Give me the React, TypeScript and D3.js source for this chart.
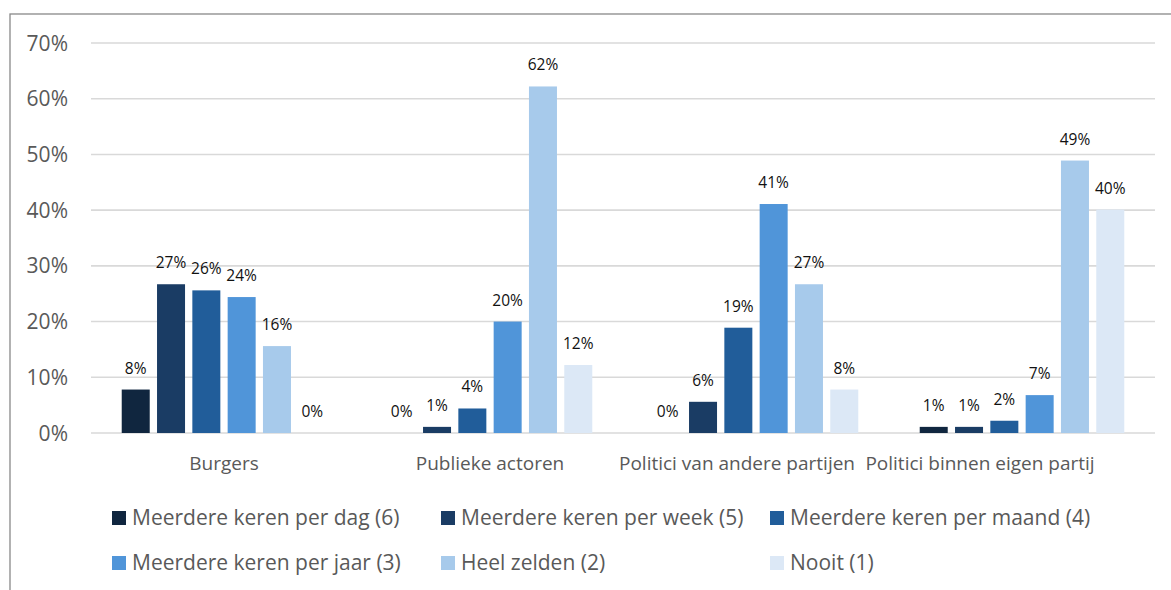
import React from "react";
import * as d3 from "d3";

const categories = ["Burgers", "Publieke actoren", "Politici van andere partijen", "Politici binnen eigen partij"];
const seriesNames = [
  "Meerdere keren per dag (6)",
  "Meerdere keren per week (5)",
  "Meerdere keren per maand (4)",
  "Meerdere keren per jaar (3)",
  "Heel zelden (2)",
  "Nooit (1)",
];
const perDag = [7.8, 0, 0, 1.1];
const perWeek = [26.7, 1.1, 5.6, 1.1];
const perMaand = [25.6, 4.4, 18.9, 2.2];
const perJaar = [24.4, 20.0, 41.1, 6.8];
const heelZelden = [15.6, 62.2, 26.7, 48.9];
const nooit = [0, 12.2, 7.8, 40.1];
const seriesValues = [perDag, perWeek, perMaand, perJaar, heelZelden, nooit];
const colors = ["#10263f", "#1a3c64", "#215d9a", "#5095d9", "#a7caeb", "#dce8f6"];
const yTicks = [0, 10, 20, 30, 40, 50, 60, 70];
const labelShift = [0, 0, -19, -42];

const FONT = "'Open Sans', sans-serif";

export default function App() {
  const x0 = d3.scaleBand<string>().domain(categories).range([91, 1155]).paddingInner(0).paddingOuter(0);
  const x1 = d3
    .scaleBand<string>()
    .domain(seriesNames)
    .range([0, x0.bandwidth()])
    .paddingInner(0.207)
    .paddingOuter(0.87);
  const y = d3.scaleLinear().domain([0, 70]).range([433, 43]);

  return (
    <svg
      width={1171}
      height={590}
      style={{ position: "absolute", left: 0, top: 0, background: "#fff" }}
      fontFamily={FONT}
    >
      <rect x={0} y={0} width={1171} height={590} fill="#fff" />
      <rect x={10} y={14} width={1300} height={700} fill="none" stroke="#898989" strokeWidth={1.3} />
      {yTicks.map((t) => (
        <g key={t}>
          <line x1={91} x2={1155} y1={y(t)} y2={y(t)} stroke="#d9d9d9" strokeWidth={1.6} />
          <text x={68} y={y(t)} dy="0.36em" textAnchor="end" fontSize={21} fill="#595959">
            {t}%
          </text>
        </g>
      ))}
      {categories.map((c, ci) => (
        <g key={c} transform={`translate(${x0(c)},0)`}>
          {seriesNames.map((s, si) => {
            const v = seriesValues[si][ci];
            const bx = x1(s)!;
            return (
              <g key={s}>
                <rect x={bx} y={y(v)} width={x1.bandwidth()} height={y(0) - y(v)} fill={colors[si]} />
                <text
                  x={bx + x1.bandwidth() / 2}
                  y={y(v) - 16}
                  textAnchor="middle"
                  fontSize={15.5}
                  fill="#111"
                >
                  {Math.round(v)}%
                </text>
              </g>
            );
          })}
        </g>
      ))}
      {categories.map((c, ci) => (
        <text
          key={c}
          x={x0(c)! + x0.bandwidth() / 2 + labelShift[ci]}
          y={470}
          textAnchor="middle"
          fontSize={19}
          fill="#595959"
        >
          {c}
        </text>
      ))}
      {seriesNames.map((s, i) => {
        const col = i % 3;
        const row = Math.floor(i / 3);
        const lx = 112 + col * 329;
        const ly = 511 + row * 45;
        return (
          <g key={s}>
            <rect x={lx} y={ly} width={14} height={14} fill={colors[i]} />
            <text x={lx + 20} y={ly + 13.5} fontSize={21} fill="#595959">
              {s}
            </text>
          </g>
        );
      })}
    </svg>
  );
}
